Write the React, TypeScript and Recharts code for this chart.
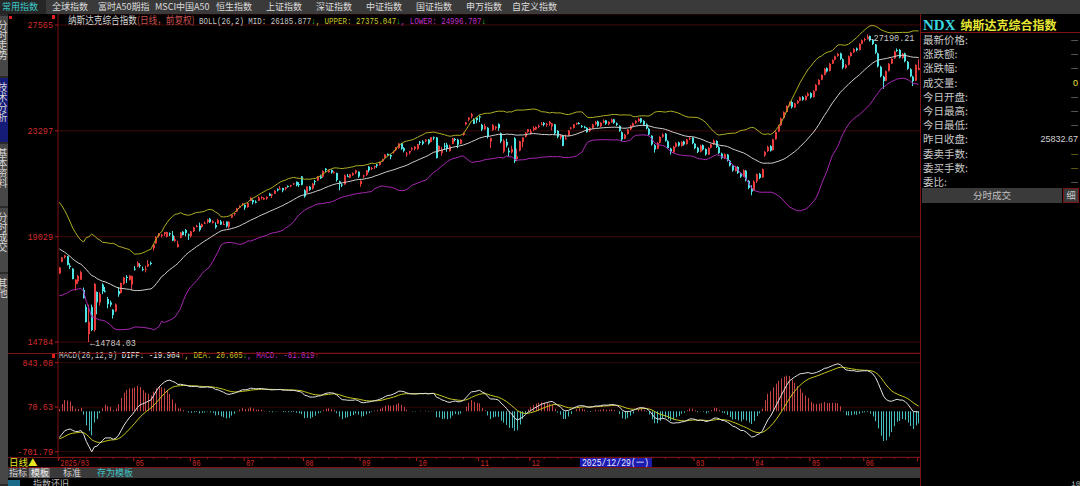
import { Bar, CartesianGrid, ComposedChart, Line, XAxis, YAxis } from "recharts";

const MONO = '"Liberation Mono", "DejaVu Sans Mono", monospace';
const CJK = '"Noto Sans CJK SC", "Noto Sans", sans-serif';
const FRAME = "#7d1212";

// closes before the first visible bar (Dec 2024 - Mar 20 2025), only feed BOLL / MACD
const warmupCloses = [
  20173, 20109, 19393, 19372, 19573, 19764, 20031, 20020, 19722, 19487, 19311,
  19280, 19621, 19864, 19490, 19479, 19161, 19088, 19044, 19511, 19338, 19630, 19757, 20009, 20053, 19954, 19342, 19734, 19633, 19681, 19627,
  19392, 19654, 19692, 19791, 19523, 19714, 19643, 19649, 19946, 20026, 20041, 20056, 19962, 19524, 19286, 19026, 19075, 18544, 18847,
  18350, 18285, 18553, 18069, 18196, 17468, 17436, 17648, 17303, 17754, 17808, 17504, 17751, 17692,
];

// daily bars [open, high, low, close]
const mar25 = [[17550,17810,17520,17784],[18020,18210,18000,18189],[18200,18290,18150,18272],[18240,18260,17870,17900],[17860,17960,17720,17805],[17740,17760,17310,17323],[17110,17310,16860,17299]];
const apr25 = [[17230,17490,17130,17450],[17300,17660,17290,17601],[16880,16980,16540,16551],[16200,16300,15570,15588],[15100,16290,14784.03,15603],[16190,16290,15220,15268],[15270,17160,15200,17125],[16800,16820,15900,16387],[16370,16790,16250,16724],[17100,17150,16720,16832],[16850,17000,16780,16823],[16520,16600,16140,16307],[16380,16450,16200,16286],[16090,16100,15730,15871],[16020,16340,15990,16300],[16840,17000,16610,16708],[16760,17180,16740,17166],[17130,17410,17090,17383],[17410,17480,17160,17366],[17290,17480,17260,17461],[17100,17460,16900,17446]];
const may25 = [[17740,17850,17660,17711],[17830,18040,17800,17978],[17880,17960,17780,17844],[17730,17820,17640,17690],[17710,17860,17590,17738],[17830,18080,17800,17929],[17970,18030,17880,17929],[18560,18730,18470,18708],[18760,19050,18740,19010],[19060,19180,19000,19147],[19070,19140,19000,19112],[19140,19220,19060,19211],[19020,19230,19000,19215],[19170,19200,19060,19143],[19090,19260,18850,18872],[18860,19050,18820,18926],[18610,18870,18600,18737],[18990,19220,18960,19199],[19230,19250,19080,19101],[19300,19340,19050,19175],[19120,19160,18900,19114]];
const jun25 = [[19050,19260,19000,19243],[19250,19430,19220,19399],[19420,19510,19410,19460],[19480,19600,19240,19299],[19420,19560,19380,19530],[19570,19640,19540,19591],[19620,19750,19560,19715],[19750,19790,19580,19615],[19590,19690,19560,19662],[19500,19610,19350,19407],[19560,19750,19550,19701],[19640,19700,19500,19521],[19520,19660,19500,19546],[19640,19640,19400,19447],[19430,19650,19360,19631],[19800,19920,19790,19913],[19960,20000,19880,19974],[20040,20190,20020,20168],[20200,20300,20170,20273],[20330,20390,20270,20370]];
const jul25 = [[20310,20340,20110,20203],[20220,20400,20200,20394],[20470,20620,20460,20601],[20510,20540,20330,20412],[20440,20500,20370,20418],[20480,20650,20470,20611],[20620,20660,20530,20630],[20530,20620,20510,20586],[20570,20650,20520,20641],[20760,20800,20670,20677],[20700,20760,20590,20730],[20760,20900,20750,20885],[20950,20980,20860,20896],[20940,21070,20930,20974],[20990,21000,20820,20892],[20960,21030,20900,21020],[21070,21100,21010,21057],[21080,21120,21020,21108],[21140,21190,21110,21179],[21250,21250,21060,21098],[21150,21230,21030,21130],[21460,21480,21100,21122]];
const aug25 = [[20900,20940,20600,20650],[20800,21060,20780,21053],[21040,21080,20880,20916],[20970,21190,20930,21169],[21270,21320,21110,21242],[21290,21470,21270,21450],[21460,21530,21360,21385],[21450,21700,21400,21682],[21770,21800,21640,21713],[21630,21740,21610,21710],[21720,21740,21570,21623],[21600,21680,21580,21630],[21600,21610,21250,21315],[21260,21290,20900,21172],[21130,21180,21030,21100],[21140,21540,21120,21497],[21470,21560,21440,21449],[21410,21560,21390,21545],[21510,21620,21480,21590],[21610,21730,21550,21705],[21650,21660,21400,21456]];
const sep25 = [[21150,21300,21040,21280],[21460,21530,21400,21498],[21520,21710,21480,21708],[21850,21880,21620,21700],[21760,21840,21720,21799],[21830,21890,21760,21879],[21940,21960,21810,21886],[21920,22060,21900,22043],[22070,22180,22040,22141],[22200,22350,22180,22348],[22370,22380,22290,22333],[22320,22360,22150,22261],[22460,22500,22370,22471],[22520,22640,22480,22631],[22600,22800,22580,22789],[22800,22810,22530,22574],[22600,22640,22430,22497],[22350,22450,22250,22385],[22420,22500,22350,22484],[22560,22640,22500,22592],[22570,22680,22500,22660]];
const oct25 = [[22560,22770,22540,22755],[22860,22890,22730,22845],[22870,22920,22720,22780],[22880,22960,22830,22942],[22950,22970,22740,22789],[22850,23050,22830,23044],[23040,23070,22920,23025],[23030,23050,22180,22204],[22500,22710,22450,22695],[22400,22650,22300,22522],[22700,22810,22520,22671],[22740,22820,22450,22563],[22480,22740,22460,22680],[22770,23010,22760,22991],[22970,23010,22870,22954],[22940,22980,22600,22740],[22780,22970,22760,22942],[23130,23230,23100,23205],[23560,23650,23520,23637],[23750,23850,23680,23827],[23880,24020,23800,23958],[23770,23800,23570,23581],[23830,23860,23600,23725]];
const nov25 = [[23880,23920,23650,23835],[23540,23580,23290,23349],[23360,23580,23340,23500],[23420,23450,22990,23054],[22870,23020,22600,23004],[23330,23570,23300,23527],[23400,23490,23330,23468],[23570,23600,23300,23406],[23200,23230,22800,22871],[22460,22960,22400,22901],[22850,22980,22630,22709],[22500,22620,22280,22432],[22430,22700,22380,22564],[23000,23040,22000,22078],[22160,22580,22070,22273],[22500,22900,22470,22873],[22850,23030,22630,23025],[23060,23250,23030,23215],[23250,23370,23220,23366]];
const dec25 = [[23200,23370,23150,23276],[23340,23480,23290,23414],[23360,23480,23330,23454],[23480,23550,23400,23505],[23560,23650,23520,23578],[23620,23650,23480,23546],[23540,23620,23460,23576],[23580,23700,23490,23654],[23480,23620,23320,23594],[23560,23570,23140,23195],[23300,23320,23000,23057],[23030,23150,22950,23111],[23100,23120,22680,22693],[22960,23150,22940,23006],[23100,23330,23080,23307],[23390,23450,23350,23428],[23420,23570,23390,23562],[23560,23630,23540,23614],[23610,23650,23560,23593],[23500,23530,23420,23474],[23460,23500,23400,23419],[23420,23440,23230,23242]];
const jan26 = [[23300,23450,23250,23400],[23420,23580,23380,23550],[23570,23700,23520,23650],[23680,23710,23460,23500],[23480,23650,23440,23620],[23640,23760,23600,23700],[23720,23740,23540,23580],[23560,23690,23520,23660],[23640,23790,23620,23750],[23760,23780,23580,23620],[23600,23640,23490,23540],[23500,23520,23260,23300],[23240,23280,22880,22950],[22980,23180,22960,23150],[23170,23380,23140,23350],[23360,23530,23320,23500],[23490,23630,23460,23600],[23620,23730,23580,23700],[23690,23830,23660,23780],[23800,23820,23600,23650]];
const feb26 = [[23700,23720,23510,23550],[23560,23600,23360,23400],[23380,23420,23110,23150],[23100,23120,22700,22750],[22720,22760,22420,22550],[22580,22850,22560,22800],[22820,23080,22790,23050],[23060,23200,23020,23150],[23180,23210,22860,22900],[22880,22920,22560,22600],[22580,22620,22340,22450],[22430,22690,22400,22650],[22660,22840,22620,22800],[22830,22860,22660,22700],[22690,22880,22660,22850],[22870,22900,22700,22750],[22760,22980,22740,22950],[22970,23060,22930,23000],[23020,23040,22760,22800]];
const mar26 = [[22780,22800,22560,22600],[22620,22650,22400,22450],[22460,22740,22430,22700],[22720,22750,22510,22550],[22560,22590,22300,22350],[22340,22640,22320,22600],[22620,22780,22590,22750],[22760,22950,22730,22900],[22890,22920,22610,22650],[22640,22680,22360,22400],[22380,22420,22150,22200],[22180,22390,22160,22350],[22340,22370,22060,22100],[22090,22120,21860,21900],[21880,21910,21650,21700],[21680,21890,21660,21850],[21840,21870,21560,21600],[21590,21620,21400,21450],[21460,21740,21440,21700],[21690,21720,21260,21300],[21280,21310,20950,21000],[20980,21100,20700,20850]];
const apr26 = [[20900,21300,20880,21250],[21260,21580,21200,21550],[21560,21600,21350,21400],[21420,21780,21400,21750],[22300,22480,22250,22450],[22480,22700,22440,22650],[22680,22720,22460,22500],[22520,22980,22500,22950],[22960,23280,22940,23250],[23270,23540,23250,23500],[23520,23830,23500,23800],[23810,24080,23790,24050],[24060,24330,24040,24300],[24310,24480,24280,24450],[24460,24500,24200,24250],[24240,24430,24220,24400],[24410,24540,24380,24500],[24510,24680,24490,24650],[24660,24700,24510,24550],[24540,24730,24520,24700],[24710,24850,24680,24800]];
const may26 = [[24820,24850,24600,24650],[24660,24930,24640,24900],[24910,25180,24890,25150],[25160,25380,25140,25350],[25360,25580,25340,25550],[25560,25830,25540,25800],[25820,25860,25650,25700],[25710,26030,25690,26000],[26010,26180,25990,26150],[26160,26330,26140,26300],[26310,26440,26280,26400],[26420,26450,26150,26200],[26180,26220,25780,25850],[25840,25990,25800,25950],[25960,26330,25940,26300],[26310,26480,26290,26450],[26460,26630,26440,26600],[26620,26660,26500,26550],[26560,26830,26540,26800],[26810,26980,26790,26950]];
const jun26 = [[26960,27050,26900,27000],[27010,27190.21,26980,27100],[27120,27140,26900,26950],[26960,27000,26760,26800],[26780,26800,26400,26450],[26420,26450,25850,25900],[25880,25920,25450,25500],[25480,25520,24990,25300],[25320,25730,25300,25700],[25710,26030,25690,26000],[26010,26230,25990,26200],[26220,26530,26200,26500],[26560,26620,26480,26550],[26560,26600,26220,26250],[26240,26440,26200,26400],[26420,26450,26060,26100],[26080,26120,25760,25800],[25780,25820,25460,25500],[25480,25520,25100,25300],[25320,25980,25300,25950]];
const jul26 = [[25760,26180,25740,25832.67]];

const monthBars = [mar25, apr25, may25, jun25, jul25, aug25, sep25, oct25, nov25, dec25, jan26, feb26, mar26, apr26, may26, jun26, jul26];
const monthLabels = ["2025/03", "", "05", "06", "07", "08", "09", "10", "11", "12", "01", "02", "03", "04", "05", "06", "07"];

const priceTicks = [14784, 19029, 23297, 27565];
const macdTicks = [843.08, 70.63, -701.79];
const cursorIndex = 194;
const cursorLabel = "2025/12/29(一)";

const topTabs: [string, number][] = [
  ["常用指数", 2], ["全球指数", 52], ["富时A50期指", 98], ["MSCI中国A50", 155], ["恒生指数", 216], ["上证指数", 266],
  ["深证指数", 316], ["中证指数", 366], ["国证指数", 416], ["申万指数", 466], ["自定义指数", 512],
];
const sideTabs: [string, number, number, boolean][] = [
  ["分时走势", 16, 60, false], ["技术分析", 78, 64, true], ["基本资料", 144, 62, false], ["分时成交", 208, 64, false], ["其他", 274, 210, false],
];
const quoteLabels = ["最新价格:", "涨跌额:", "涨跌幅:", "成交量:", "今日开盘:", "今日最高:", "今日最低:", "昨日收盘:", "委卖手数:", "委买手数:", "委比:"];
const quoteValues = ["—", "—", "—", "0", "—", "—", "—", "25832.67", "—", "—", "—"];
const quoteColors = ["#9a9a9a", "#9a9a9a", "#9a9a9a", "#e6e632", "#9a9a9a", "#9a9a9a", "#9a9a9a", "#d0d0d0", "#a0a020", "#a0a020", "#9a9a9a"];

// ---- build rows + indicators (BOLL 26,2 and MACD 26,12,9) ----
const bars = monthBars.flat();
const monthStart = new Map<number, string>();
{
  let k = 0;
  monthBars.forEach((m, j) => {
    monthStart.set(k, monthLabels[j]);
    k += m.length;
  });
}
const closes = [...warmupCloses, ...bars.map((b) => b[3])];
const ema = (src: number[], n: number) => {
  const a = 2 / (n + 1);
  const out: number[] = [];
  src.forEach((v, i) => out.push(i === 0 ? v : a * v + (1 - a) * out[i - 1]));
  return out;
};
const e12 = ema(closes, 12);
const e26 = ema(closes, 26);
const diffs = closes.map((_, i) => e12[i] - e26[i]);
const deas = ema(diffs, 9);
const W = warmupCloses.length;

const rows = bars.map(([o, h, l, c], i) => {
  const k = W + i;
  const win = closes.slice(k - 25, k + 1);
  const mid = win.reduce((s, v) => s + v, 0) / win.length;
  const sd = Math.sqrt(win.reduce((s, v) => s + (v - mid) ** 2, 0) / (win.length - 1));
  return { i, o, h, l, c, range: [l, h], mid, up: mid + 2 * sd, lo: mid - 2 * sd, diff: diffs[k], dea: deas[k], macd: 2 * (diffs[k] - deas[k]) };
});
const hiIdx = rows.reduce((b, r) => (r.h > rows[b].h ? r.i : b), 0);
const loIdx = rows.reduce((b, r) => (r.l < rows[b].l ? r.i : b), 0);

const UP = "#e83c3c";
const DOWN = "#4ee4e4";

function Candle(props: any) {
  const { x, y, width, height, payload } = props;
  const { o, h, l, c } = payload;
  const top = Math.min(y, y + height);
  const hh = Math.abs(height);
  const span = h - l || 1;
  const py = (v: number) => top + ((h - v) / span) * hh;
  const color = c >= o ? UP : DOWN;
  const cx = Math.floor(x + width / 2);
  const b1 = py(Math.max(o, c));
  const b2 = py(Math.min(o, c));
  return (
    <g>
      <line x1={cx + 0.5} x2={cx + 0.5} y1={top} y2={top + hh} stroke={color} strokeWidth={1} />
      <rect x={cx} y={b1} width={2} height={Math.max(1, b2 - b1)} fill={color} />
    </g>
  );
}

function MacdBar(props: any) {
  const { x, y, width, height, payload } = props;
  const top = Math.min(y, y + height);
  const cx = Math.floor(x + width / 2);
  return <rect x={cx} y={top} width={1} height={Math.abs(height)} fill={payload.macd >= 0 ? "#c84444" : "#46bcbc"} />;
}

const extremeLabel = (which: "h" | "l") => (p: any) => {
  const show = which === "h" ? p.payload.i === hiIdx : p.payload.i === loIdx;
  if (!show) return <g key={p.index} />;
  const v = which === "h" ? p.payload.h : p.payload.l;
  return (
    <text key={p.index} x={p.cx + 1} y={p.cy + (which === "h" ? 7 : 4)} fill="#c8c8c8" fontSize={9} fontFamily={MONO} textLength={46} lengthAdjust="spacingAndGlyphs">
      ←{v.toFixed(2)}
    </text>
  );
};

function XTick(props: any) {
  const { x, y, payload } = props;
  const i = payload.value as number;
  const parts: any[] = [];
  if (i % 5 === 0) parts.push(<line key="m" x1={x} x2={x} y1={y} y2={y + 2} stroke="#a01818" />);
  const label = monthStart.get(i);
  const hidden = i > cursorIndex && i < cursorIndex + 28;
  if (label && !hidden) {
    parts.push(<line key="t" x1={x - 1} x2={x - 1} y1={y} y2={y + 4} stroke="#b41c1c" />);
    parts.push(
      <text key="l" x={x + 1} y={y + 9} fill="#d02a2a" fontSize={9.5} fontFamily={MONO} textLength={label.length * 4.1} lengthAdjust="spacingAndGlyphs">
        {label}
      </text>
    );
  }
  if (i === cursorIndex) {
    parts.push(<rect key="cb" x={x - 2} y={y + 0.5} width={72} height={10} fill="#1c1cb0" />);
    parts.push(
      <text key="ct" x={x} y={y + 9} fill="#e8e8ff" fontSize={10} fontFamily={MONO} textLength={67} lengthAdjust="spacingAndGlyphs">
        {cursorLabel}
      </text>
    );
  }
  return <g>{parts}</g>;
}

const hline = (top: number, left: number, width: number, color = FRAME) => (
  <div style={{ position: "absolute", left, top, width, height: 1, background: color }} />
);

export default function App() {
  const yTick = { fill: "#d42c2c", fontSize: 8.5, fontFamily: MONO };
  return (
    <div style={{ position: "fixed", left: 0, top: 0, width: 1080, height: 486, background: "#000", overflow: "hidden", fontFamily: CJK }}>
      {/* top tab strip */}
      <div style={{ position: "absolute", left: 0, top: 0, width: 1080, height: 14, background: "#3a3a3a" }} />
      <div style={{ position: "absolute", left: 0, top: 0, width: 46, height: 14, background: "#262626" }} />
      {topTabs.map(([t, x], k) => (
        <div key={t} style={{ position: "absolute", left: x, top: 0, height: 14, lineHeight: "14px", fontSize: 9, whiteSpace: "nowrap", color: k === 0 ? "#3cc8c8" : "#dcdcdc" }}>
          {t}
        </div>
      ))}

      {/* left vertical tabs */}
      <div style={{ position: "absolute", left: 0, top: 14, width: 8, height: 472, background: "#2a2a2a", overflow: "hidden" }}>
        {sideTabs.map(([t, y, h, on]) => (
          <div key={t} style={{ position: "absolute", left: 0, top: y - 14, width: 8, height: h, background: on ? "#141c78" : "#474747", overflow: "hidden" }}>
            <div style={{ position: "absolute", left: -3, top: 4, writingMode: "vertical-rl", fontSize: 10, lineHeight: "11px", color: "#d8d8d8" }}>{t}</div>
          </div>
        ))}
      </div>
      <div style={{ position: "absolute", left: 9, top: 16, width: 3, height: 3, background: "#e02020" }} />
      <div style={{ position: "absolute", left: 52, top: 15, width: 3, height: 4, background: "#e02020" }} />
      <div style={{ position: "absolute", left: 52, top: 354, width: 3, height: 4, background: "#e02020" }} />

      {/* price panel */}
      <div style={{ position: "absolute", left: 8, top: 14 }}>
        <ComposedChart width={912} height={339} data={rows} margin={{ top: 0, right: 0, bottom: 0, left: 0 }}>
          <CartesianGrid vertical={false} stroke="#420a0a" />
          <XAxis dataKey="i" hide />
          <YAxis domain={[14340.5, 28008.5]} ticks={priceTicks} interval={0} width={50} allowDataOverflow tickSize={3} tickLine={{ stroke: "#b41c1c" }} axisLine={{ stroke: FRAME }} tick={yTick} />
          <Bar dataKey="range" barSize={2} shape={Candle} isAnimationActive={false} />
          <Line dataKey="up" stroke="#b0b024" strokeWidth={1} dot={false} activeDot={false} isAnimationActive={false} />
          <Line dataKey="mid" stroke="#cfcfcf" strokeWidth={1} dot={false} activeDot={false} isAnimationActive={false} />
          <Line dataKey="lo" stroke="#a828b4" strokeWidth={1} dot={false} activeDot={false} isAnimationActive={false} />
          <Line dataKey="h" stroke="none" dot={extremeLabel("h")} activeDot={false} isAnimationActive={false} />
          <Line dataKey="l" stroke="none" dot={extremeLabel("l")} activeDot={false} isAnimationActive={false} />
        </ComposedChart>
      </div>
      <div style={{ position: "absolute", left: 68, top: 15, height: 10, lineHeight: "10px", whiteSpace: "nowrap", fontFamily: MONO, fontSize: 9, color: "#c8c8c8", transform: "scaleX(0.83)", transformOrigin: "0 0" }}>
        <span style={{ fontFamily: CJK, fontSize: 10.4, color: "#d4d4d4" }}>纳斯达克综合指数</span>
        <span style={{ fontFamily: CJK, fontSize: 10.4, color: "#c85050" }}>(日线，前复权)</span>
        <span> BOLL(26,2) MID: 26185.877</span>
        <span style={{ color: "#30d030" }}>↓</span>
        <span style={{ color: "#c8c828" }}>, UPPER: 27375.047</span>
        <span style={{ color: "#30d030" }}>↓</span>
        <span style={{ color: "#c030c8" }}>, LOWER: 24996.707</span>
        <span style={{ color: "#30d030" }}>↓</span>
      </div>

      {/* MACD panel + date axis */}
      <div style={{ position: "absolute", left: 8, top: 353 }}>
        <ComposedChart width={912} height={115} data={rows} margin={{ top: 0, right: 0, bottom: 0, left: 0 }}>
          <CartesianGrid vertical={false} stroke="#300808" />
          <XAxis dataKey="i" interval={0} height={11} tickSize={0} tickMargin={0} tickLine={false} axisLine={false} tick={(p: any) => <XTick {...p} />} />
          <YAxis domain={[-793.8, 1011.4]} ticks={macdTicks} interval={0} width={50} allowDataOverflow tickSize={3} tickLine={{ stroke: "#b41c1c" }} axisLine={{ stroke: FRAME }} tick={yTick} tickFormatter={(v: number) => v.toFixed(2)} />
          <Bar dataKey="macd" barSize={1} shape={MacdBar} isAnimationActive={false} />
          <Line dataKey="dea" stroke="#c8c81e" strokeWidth={1} dot={false} activeDot={false} isAnimationActive={false} />
          <Line dataKey="diff" stroke="#e4e4e4" strokeWidth={1} dot={false} activeDot={false} isAnimationActive={false} />
        </ComposedChart>
      </div>
      <div style={{ position: "absolute", left: 59, top: 351, height: 10, lineHeight: "10px", whiteSpace: "nowrap", fontFamily: MONO, fontSize: 9, color: "#c8c8c8", transform: "scaleX(0.83)", transformOrigin: "0 0" }}>
        <span>MACD(26,12,9)</span>
        <span style={{ color: "#ececec" }}> DIFF: -19.904</span>
        <span style={{ color: "#e03030" }}>↑</span>
        <span style={{ color: "#c8c828" }}>, DEA: 20.605</span>
        <span style={{ color: "#30d030" }}>↓</span>
        <span style={{ color: "#c030c8" }}>, MACD: -81.019</span>
        <span style={{ color: "#e03030" }}>↑</span>
      </div>

      {/* frame lines */}
      {hline(353, 8, 913)}
      {hline(457, 8, 913)}
      {hline(467, 8, 913)}
      <div style={{ position: "absolute", left: 920, top: 14, width: 1, height: 472, background: FRAME }} />

      {/* bottom left controls */}
      <div style={{ position: "absolute", left: 9, top: 458, height: 9, lineHeight: "9px", fontSize: 9.5, color: "#e8e820", whiteSpace: "nowrap" }}>日线▲</div>
      <div style={{ position: "absolute", left: 8, top: 468, width: 912, height: 10, background: "#3a3a3a" }} />
      <div style={{ position: "absolute", left: 29, top: 468, width: 21, height: 10, background: "#6c6c6c" }} />
      {[["指标", 9, "#d8d8d8"], ["模板", 31, "#f0f0f0"], ["标准", 63, "#d8d8d8"], ["存为模板", 97, "#3cc4c4"]].map(([t, x, c]) => (
        <div key={t as string} style={{ position: "absolute", left: x as number, top: 468, height: 10, lineHeight: "10px", fontSize: 9, color: c as string, whiteSpace: "nowrap" }}>{t}</div>
      ))}
      <div style={{ position: "absolute", left: 8, top: 480, width: 12, height: 6, background: "#1a6a8a" }} />
      <div style={{ position: "absolute", left: 33, top: 479, height: 10, lineHeight: "10px", fontSize: 9, color: "#b8b8b8", whiteSpace: "nowrap" }}>指数还旧</div>
      <div style={{ position: "absolute", left: 1071, top: 479, height: 10, lineHeight: "10px", fontSize: 8, color: "#b8b8b8", fontFamily: MONO }}>i0</div>

      {/* right quote panel */}
      <div style={{ position: "absolute", left: 923, top: 14, height: 18, lineHeight: "18px", whiteSpace: "nowrap" }}>
        <span style={{ fontFamily: '"Liberation Serif", serif', fontWeight: 700, fontSize: 15, color: "#3ad6e0" }}>NDX</span>
        <span style={{ fontWeight: 700, fontSize: 12, color: "#e6e632", marginLeft: 5 }}>纳斯达克综合指数</span>
      </div>
      {hline(32, 921, 159)}
      {quoteLabels.map((t, k) => (
        <div key={t} style={{ position: "absolute", left: 923, top: 33 + k * 14.2, height: 14, lineHeight: "14px", fontSize: 10.5, color: "#c8c8c8", whiteSpace: "nowrap" }}>
          {t}
        </div>
      ))}
      {quoteValues.map((v, k) => (
        <div key={k} style={{ position: "absolute", right: 2, top: 33 + k * 14.2, height: 14, lineHeight: "14px", fontSize: v === "—" ? 7 : 9, fontFamily: '"Liberation Sans", sans-serif', color: quoteColors[k], whiteSpace: "nowrap" }}>
          {v}
        </div>
      ))}
      <div style={{ position: "absolute", left: 922, top: 188, width: 140, height: 15, lineHeight: "15px", background: "#3a3a3a", color: "#c0c0c0", fontSize: 9.5, textAlign: "center" }}>分时成交</div>
      <div style={{ position: "absolute", left: 1063, top: 188, width: 14, height: 13, lineHeight: "13px", border: `1px solid ${FRAME}`, background: "#3a3a3a", color: "#c8c8c8", fontSize: 9.5, textAlign: "center" }}>细</div>
    </div>
  );
}
